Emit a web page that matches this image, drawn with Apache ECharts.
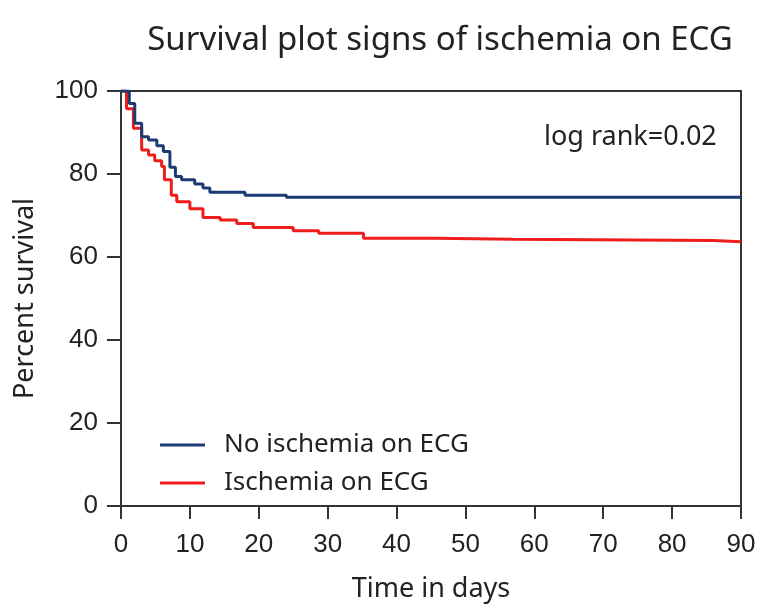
<!DOCTYPE html>
<html>
<head>
<meta charset="utf-8">
<script src="https://cdn.jsdelivr.net/npm/echarts@6/dist/echarts.min.js"></script>
<style>html,body{margin:0;padding:0;background:#fff}#c{width:763px;height:608px}</style>
</head>
<body>
<div id="c"></div>
<script>
// Kaplan-Meier steps: [day, percent survival]
var noIschemiaTimes = [0, 1.2, 2.0, 3.0, 4.0, 5.2, 6.15, 7.1, 7.9, 8.8, 10.7, 11.9, 12.9, 18.0, 24.0, 90];
var noIschemiaSurv  = [100, 97.0, 92.2, 89.0, 88.2, 86.8, 85.4, 81.6, 79.4, 78.6, 77.6, 76.6, 75.6, 74.9, 74.4, 74.4];
var ischemiaTimes = [0, 0.8, 1.8, 3.0, 4.0, 4.9, 5.9, 6.3, 7.3, 8.1, 10.0, 11.9, 14.4, 16.8, 19.2, 25.0, 28.7, 35.2, 45.8, 56.9, 86.0, 90];
var ischemiaSurv  = [100, 95.7, 91.0, 85.8, 84.6, 83.2, 81.8, 78.6, 74.9, 73.3, 71.6, 69.5, 68.9, 68.1, 67.1, 66.3, 65.7, 64.5, 64.3, 64.0, 63.7, 63.7];
var seriesNames = ['No ischemia on ECG', 'Ischemia on ECG'];
var xTicks = [0, 10, 20, 30, 40, 50, 60, 70, 80, 90];
var yTicks = [0, 20, 40, 60, 80, 100];

function pairs(t, s) { return t.map(function (v, i) { return [v, s[i]]; }); }

var chart = echarts.init(document.getElementById('c'), null, {renderer: 'canvas'});
var axisCol = '#333';
var labelFont = 'Liberation Sans, Arial, sans-serif';
var textFont = 'Noto Sans, Open Sans, sans-serif';
chart.setOption({
  animation: false,
  backgroundColor: '#fff',
  title: {
    text: 'Survival plot signs of ischemia on ECG',
    left: 435, top: 19, textAlign: 'center',
    textStyle: {fontFamily: textFont, fontSize: 33, fontWeight: 'normal', color: '#222'}
  },
  grid: {left: 121, right: 22, top: 91, bottom: 102, show: true, borderColor: axisCol, borderWidth: 2, backgroundColor: 'transparent'},
  xAxis: {
    type: 'value', min: xTicks[0], max: xTicks[xTicks.length - 1], interval: 10,
    name: 'Time in days', nameLocation: 'middle', nameGap: 70,
    nameTextStyle: {fontFamily: textFont, fontSize: 27, color: '#222'},
    axisLine: {show: true, onZero: false, lineStyle: {color: axisCol, width: 2}},
    axisTick: {show: true, length: 13, lineStyle: {color: axisCol, width: 2}},
    axisLabel: {fontFamily: labelFont, fontSize: 26, color: '#222', margin: 26},
    splitLine: {show: false}
  },
  yAxis: {
    type: 'value', min: yTicks[0], max: yTicks[yTicks.length - 1], interval: 20,
    name: 'Percent survival', nameLocation: 'middle', nameGap: 82,
    nameTextStyle: {fontFamily: textFont, fontSize: 27, color: '#222'},
    axisLine: {show: true, onZero: false, lineStyle: {color: axisCol, width: 2}},
    axisTick: {show: true, length: 14, lineStyle: {color: axisCol, width: 2}},
    axisLabel: {fontFamily: labelFont, fontSize: 26, color: '#222', margin: 23},
    splitLine: {show: false}
  },
  legend: {
    orient: 'vertical', left: 155, top: 427,
    icon: 'rect', itemWidth: 45, itemHeight: 3, itemGap: 12,
    textStyle: {fontFamily: textFont, fontSize: 26, color: '#222', padding: [0, 0, 0, 14], lineHeight: 26},
    data: seriesNames
  },
  graphic: [{
    type: 'text', left: 544, top: 124,
    style: {text: 'log rank=0.02', font: '27px ' + textFont, fill: '#222'}
  }],
  series: [
    {name: seriesNames[0], type: 'line', step: 'end', symbol: 'none', color: '#1b3b72',
     lineStyle: {width: 3, color: '#1b3b72'}, data: pairs(noIschemiaTimes, noIschemiaSurv), z: 3},
    {name: seriesNames[1], type: 'line', step: 'end', symbol: 'none', color: '#ee1c1c',
     lineStyle: {width: 3, color: '#ee1c1c'}, data: pairs(ischemiaTimes, ischemiaSurv), z: 2}
  ]
});
</script>
</body>
</html>
